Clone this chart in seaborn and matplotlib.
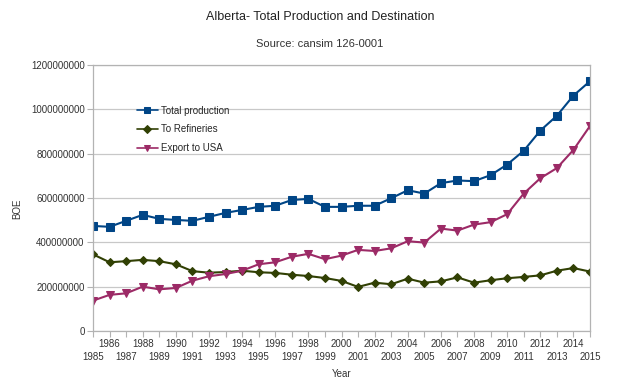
import matplotlib
matplotlib.use("Agg")
import matplotlib.pyplot as plt
import seaborn as sns
import pandas as pd

years = list(range(1985, 2016))

total_production = [474, 470, 497, 524, 506, 501, 497, 515, 533, 546,
                    560, 565, 591, 596, 560, 560, 565, 565, 599, 635,
                    620, 667, 679, 676, 703, 751, 813, 904, 971, 1062, 1127]

to_refineries = [346, 310, 315, 321, 315, 301, 270, 263, 266, 272,
                 265, 262, 254, 248, 239, 226, 199, 218, 211, 236,
                 218, 224, 242, 218, 229, 238, 244, 251, 272, 284, 268]

export_usa = [137, 163, 170, 200, 188, 194, 227, 247, 257, 272,
              301, 310, 335, 348, 324, 340, 366, 361, 373, 405,
              399, 462, 453, 480, 491, 527, 620, 689, 735, 817, 925]

series_names = ["Total production", "To Refineries", "Export to USA"]
colors = ["#004586", "#314004", "#9c2a66"]
markers = ["s", "D", "v"]
marker_sizes = [6, 4, 6]

df = pd.DataFrame({
    "Year": years * 3,
    "BOE": [v * 1e6 for v in total_production + to_refineries + export_usa],
    "Series": [n for n in series_names for _ in years],
})

sns.set_style("white")
plt.rcParams["font.family"] = ["Liberation Sans", "DejaVu Sans"]

fig = plt.figure(figsize=(6.4, 3.88), dpi=100)
ax = fig.add_axes([93 / 640, 1 - 331 / 388, 497 / 640, 266 / 388])

for name, c, m, ms in zip(series_names, colors, markers, marker_sizes):
    sub = df[df["Series"] == name]
    sns.lineplot(data=sub, x="Year", y="BOE", ax=ax, color=c, marker=m,
                 markersize=ms, markeredgecolor=c, linewidth=1.5, label=name)

ax.set_xlim(1985, 2015)
ax.set_ylim(0, 1.2e9)
ax.set_yticks([i * 2e8 for i in range(7)])
ax.set_yticklabels(["0"] + [f"{int(i * 2e8)}" for i in range(1, 7)])

# even years on the upper row, odd years on the lower row
even_years = [y for y in years if y % 2 == 0]
odd_years = [y for y in years if y % 2 == 1]
ax.set_xticks(even_years)
ax.set_xticklabels([str(y) for y in even_years])
ax.set_xticks(odd_years, minor=True)
ax.set_xticklabels([str(y) for y in odd_years], minor=True)

ax.tick_params(axis="both", which="both", labelsize=7, colors="#333333",
               length=4, width=0.8, direction="out", color="#b3b3b3")
ax.tick_params(axis="x", which="major", bottom=True, pad=2)
ax.tick_params(axis="x", which="minor", bottom=True, pad=11)
ax.tick_params(axis="y", left=True, pad=2)
ax.grid(axis="y", color="#c8c8c8", linewidth=0.9)
for sp in ax.spines.values():
    sp.set_color("#b3b3b3")
    sp.set_linewidth(0.9)

ax.set_xlabel("Year", fontsize=7, color="#333333", labelpad=5)
ax.set_ylabel("BOE", fontsize=7, color="#333333")
ax.yaxis.set_label_coords(-0.143, 0.46)

leg = ax.legend(loc="upper left", bbox_to_anchor=(0.07, 0.88), frameon=False,
                fontsize=7, handlelength=2.2, handletextpad=0.3, labelspacing=0.9)
for h in leg.legend_handles:
    h.set_markersize(4)
    h.set_linewidth(1.2)

fig.text(0.5, 1 - 17 / 388, "Alberta- Total Production and Destination",
         ha="center", va="center", fontsize=9, color="#222222")
fig.text(0.5, 1 - 44 / 388, "Source: cansim 126-0001",
         ha="center", va="center", fontsize=8, color="#333333")

fig.savefig("out.png", dpi=100)
